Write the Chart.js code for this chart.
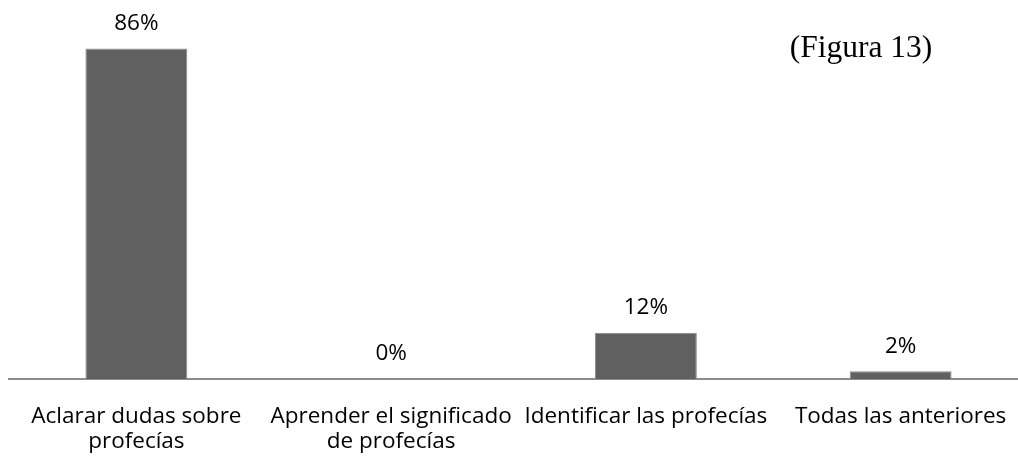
<!DOCTYPE html>
<html>
<head>
<meta charset="utf-8">
<script src="https://cdn.jsdelivr.net/npm/chart.js@4"></script>
<style>
  html, body { margin: 0; padding: 0; background: #fff; overflow: hidden; }
  #wrap { width: 1030px; height: 459px; }
</style>
</head>
<body>
<div id="wrap"><canvas id="chart" width="1030" height="459"></canvas></div>
<script>
// Data
const categories = [
    ['Aclarar dudas sobre', 'profecías'],
    ['Aprender el significado', 'de profecías'],
    'Identificar las profecías',
    'Todas las anteriores'
];
const values = [86, 0, 12, 2];
const valueLabels = ['86%', '0%', '12%', '2%'];
const figureTitle = '(Figura 13)';

const labelFont = '22.5px "Open Sans", sans-serif';

// Draws the value labels over the bars and the figure caption
const overlayPlugin = {
    id: 'overlay',
    afterDatasetsDraw(chart) {
        const ctx = chart.ctx;
        const meta = chart.getDatasetMeta(0);
        ctx.save();
        ctx.fillStyle = '#000';
        ctx.font = labelFont;
        ctx.textAlign = 'center';
        ctx.textBaseline = 'middle';
        meta.data.forEach((bar, i) => {
            ctx.fillText(valueLabels[i], bar.x, bar.y - 25);
        });
        ctx.font = '31.5px "Liberation Serif", "DejaVu Serif", serif';
        ctx.fillText(figureTitle, 861, 49);
        ctx.restore();
    }
};

const ctx = document.getElementById('chart').getContext('2d');
const chart = new Chart(ctx, {
    type: 'bar',
    data: {
        labels: categories,
        datasets: [{
            data: values,
            backgroundColor: '#606060',
            borderColor: '#8a8a8a',
            borderWidth: 1,
            barPercentage: 0.4,
            categoryPercentage: 1.0
        }]
    },
    options: {
        responsive: false,
        animation: false,
        layout: { padding: { left: 9, right: 2, top: 33, bottom: 0 } },
        plugins: {
            legend: { display: false },
            tooltip: { enabled: false }
        },
        scales: {
            x: {
                grid: { display: false },
                border: { display: true, color: '#8c8c8c', width: 2 },
                ticks: {
                    color: '#000',
                    font: { family: '"Open Sans", sans-serif', size: 22.5, lineHeight: 1.1 },
                    padding: 17,
                    maxRotation: 0,
                    autoSkip: false
                },
                afterFit(scale) { scale.height = 80; }
            },
            y: {
                display: false,
                min: 0,
                max: 90
            }
        }
    },
    plugins: [overlayPlugin]
});
</script>
</body>
</html>
